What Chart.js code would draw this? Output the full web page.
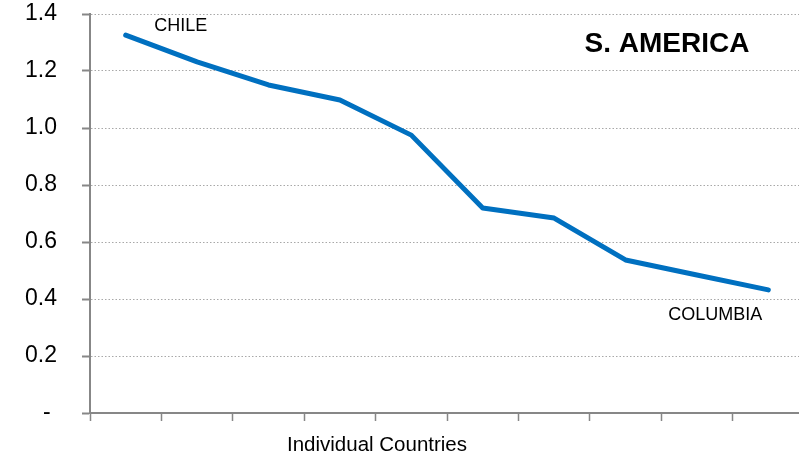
<!DOCTYPE html>
<html>
<head>
<meta charset="utf-8">
<script src="https://cdn.jsdelivr.net/npm/chart.js@4/dist/chart.umd.min.js"></script>
<style>
  html, body { margin: 0; padding: 0; background: #fff; overflow: hidden; }
  #wrap { width: 799px; height: 458px; overflow: hidden; position: relative; }
  canvas { display: block; }
</style>
</head>
<body>
<div id="wrap"><canvas id="c" width="810" height="458"></canvas></div>
<script>
// ---- data ----
const categories = ['CHILE', 'Country 2', 'Country 3', 'Country 4', 'Country 5',
                    'Country 6', 'Country 7', 'Country 8', 'Country 9', 'COLUMBIA'];
const values = [1.326, 1.232, 1.151, 1.098, 0.975, 0.719, 0.684, 0.537, 0.484, 0.432];
const yTickLabels = ['- ', '0.2', '0.4', '0.6', '0.8', '1.0', '1.2', '1.4'];
const regionTitle = 'S. AMERICA';
const xAxisTitle = 'Individual Countries';

const FONT = '"Liberation Sans", Arial, sans-serif';
const AXIS = '#878787';

const labelsPlugin = {
  id: 'labels',
  afterDatasetsDraw(chart) {
    const ctx = chart.ctx;
    const xs = chart.scales.x, ys = chart.scales.y;
    ctx.save();
    ctx.fillStyle = '#000';
    ctx.textBaseline = 'middle';
    ctx.textAlign = 'center';
    ctx.font = '18px ' + FONT;
    const n = values.length;
    ctx.fillText(categories[0], xs.getPixelForValue(0) + 55, ys.getPixelForValue(values[0]) - 9);
    ctx.fillText(categories[n - 1], xs.getPixelForValue(n - 1) - 53, ys.getPixelForValue(values[n - 1]) + 25);
    ctx.font = 'bold 28px ' + FONT;
    ctx.fillText(regionTitle, 667, 44);
    ctx.font = '20.5px ' + FONT;
    ctx.fillText(xAxisTitle, 377, 445);
    ctx.restore();
  }
};

new Chart(document.getElementById('c'), {
  type: 'line',
  data: {
    labels: categories,
    datasets: [{
      data: values,
      borderColor: '#0070C0',
      borderWidth: 5,
      borderCapStyle: 'round',
      borderJoinStyle: 'round',
      pointRadius: 0,
      tension: 0,
      fill: false
    }]
  },
  options: {
    responsive: false,
    devicePixelRatio: 1,
    animation: false,
    layout: { padding: { top: 14, right: 6, left: 0, bottom: 0 } },
    plugins: { legend: { display: false }, tooltip: { enabled: false }, title: { display: false } },
    scales: {
      x: {
        type: 'category',
        offset: true,
        grid: {
          offset: true,
          drawOnChartArea: false,
          drawTicks: true,
          tickLength: 8,
          tickColor: AXIS,
          tickWidth: 1.5,
          color: AXIS
        },
        border: { display: true, color: AXIS, width: 2 },
        ticks: { callback: () => '', padding: 0, font: { size: 1 } },
        afterFit(scale) { scale.height = 45; scale.paddingTop = 0; scale.paddingBottom = 0; }
      },
      y: {
        min: 0,
        max: 1.4,
        grid: {
          color: '#a8a8a8',
          lineWidth: 1,
          drawTicks: true,
          tickLength: 8,
          tickColor: AXIS,
          tickWidth: 2
        },
        border: { display: true, color: AXIS, width: 2, dash: [1.5, 2] },
        ticks: {
          stepSize: 0.2,
          padding: 25,
          color: '#000',
          font: { family: FONT, size: 23 },
          callback: (v, i) => yTickLabels[i]
        },
        afterFit(scale) { scale.width = 90; scale.paddingTop = 0; scale.paddingBottom = 0; }
      }
    }
  },
  plugins: [labelsPlugin]
});
</script>
</body>
</html>
